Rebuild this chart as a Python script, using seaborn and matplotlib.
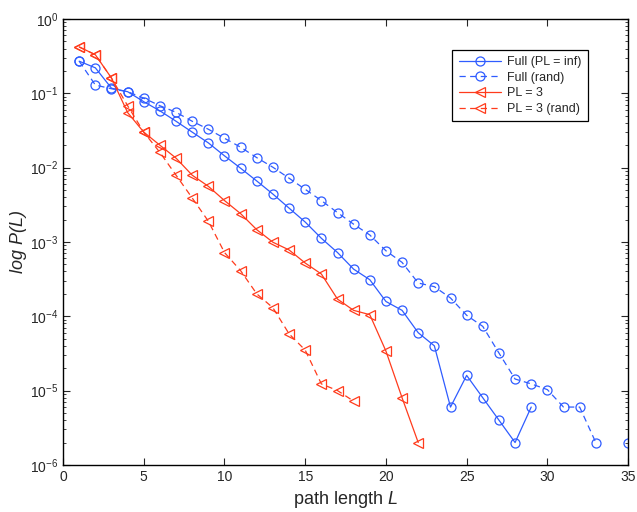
import numpy as np
import pandas as pd
import matplotlib
matplotlib.use('Agg')
import matplotlib.pyplot as plt
import seaborn as sns
from matplotlib.ticker import LogLocator, NullFormatter, MultipleLocator

# 路径长度分布数据
L_full = list(range(1, 30))
p_full = [0.27, 0.22, 0.117, 0.105, 0.077, 0.058, 0.042, 0.030, 0.0215, 0.0144,
          0.0098, 0.0066, 0.0044, 0.00285, 0.00185, 0.00112, 0.00072, 0.00043, 0.00031, 0.000158,
          0.00012, 6.0e-5, 4.0e-5, 6e-6, 1.6e-5, 8e-6, 4e-6, 2e-6, 6e-6]

L_rand = list(range(1, 36))
p_rand = [0.27, 0.129, 0.115, 0.105, 0.086, 0.068, 0.0555, 0.042, 0.0328, 0.0248,
          0.0188, 0.0136, 0.0101, 0.0072, 0.0051, 0.0036, 0.00248, 0.00173, 0.00124, 0.00076,
          0.00053, 0.00028, 0.00025, 0.000176, 0.000103, 7.3e-5, 3.2e-5, 1.43e-5, 1.23e-5, 1.03e-5,
          6e-6, 6e-6, 2e-6, np.nan, 2e-6]

L_pl3 = list(range(1, 23))
p_pl3 = [0.42, 0.33, 0.16, 0.055, 0.03, 0.02, 0.0134, 0.0079, 0.0056, 0.0036,
         0.0024, 0.00146, 0.00099, 0.00078, 0.00052, 0.00037, 0.00017, 0.00012, 0.000105, 3.4e-5,
         8e-6, 2e-6]

L_pl3r = list(range(1, 19))
p_pl3r = [0.42, 0.33, 0.16, 0.068, 0.03, 0.016, 0.0079, 0.0039, 0.0019, 0.00072,
          0.00041, 0.0002, 0.00013, 5.8e-5, 3.5e-5, 1.23e-5, 1.0e-5, 7.2e-6]

sns.set_style('ticks')
plt.rcParams['font.family'] = ['Liberation Sans', 'DejaVu Sans']
plt.rcParams['mathtext.fontset'] = 'custom'
plt.rcParams['mathtext.rm'] = 'Liberation Sans'
plt.rcParams['mathtext.it'] = 'Liberation Sans:italic'
plt.rcParams['mathtext.default'] = 'rm'

blue = '#2f5cff'
red = '#ff3b1c'


def to_df(L, p):
    df = pd.DataFrame({'L': L, 'P': p})
    # 零值(NaN)处断开连线
    df['seg'] = df['P'].isna().cumsum()
    return df.dropna()


fig = plt.figure(figsize=(6.37, 5.12), dpi=100)
ax = fig.add_axes([0.099, 0.092, 0.887, 0.871])
ax.set_yscale('log')

series = [
    (L_full, p_full, blue, '-', 'o', 'Full (PL = inf)'),
    (L_rand, p_rand, blue, (0, (5, 3.5)), 'o', 'Full (rand)'),
    (L_pl3, p_pl3, red, '-', '<', 'PL = 3'),
    (L_pl3r, p_pl3r, red, (0, (5, 3.5)), '<', 'PL = 3 (rand)'),
]
for L, p, c, ls, m, lab in series:
    df = to_df(L, p)
    sns.lineplot(data=df, x='L', y='P', units='seg', estimator=None, ax=ax,
                 color=c, linestyle=ls, linewidth=0.9, marker=m, markersize=6.5,
                 fillstyle='none', markeredgecolor=c, markeredgewidth=0.9, label=lab)

ax.set_xlim(0, 35)
ax.set_ylim(1e-6, 1)
ax.xaxis.set_major_locator(MultipleLocator(5))
ax.yaxis.set_major_locator(LogLocator(base=10, numticks=10))
ax.yaxis.set_minor_locator(LogLocator(base=10, subs=np.arange(2, 10), numticks=20))
ax.yaxis.set_minor_formatter(NullFormatter())
ax.tick_params(which='both', direction='in', top=True, right=True, labelsize=10)
ax.tick_params(which='major', length=5, width=0.8)
ax.tick_params(which='minor', length=2.5, width=0.6)
for s in ax.spines.values():
    s.set_linewidth(1.0)
    s.set_color('black')

ax.set_xlabel('path length $\\mathit{L}$', fontsize=13)
ax.set_ylabel('log P(L)', fontsize=13, fontstyle='italic', labelpad=2)

# 去掉重复的图例项
handles, labels = ax.get_legend_handles_labels()
seen = {}
for h, l in zip(handles, labels):
    if l not in seen:
        seen[l] = h
leg = ax.legend(list(seen.values()), list(seen.keys()), loc='upper right',
                bbox_to_anchor=(0.94, 0.945), fontsize=9,
                fancybox=False, edgecolor='black', framealpha=1, handlelength=3.4,
                borderpad=0.5, labelspacing=0.3, handletextpad=0.5)
leg.get_frame().set_linewidth(0.9)

plt.savefig('out.png', dpi=100)
